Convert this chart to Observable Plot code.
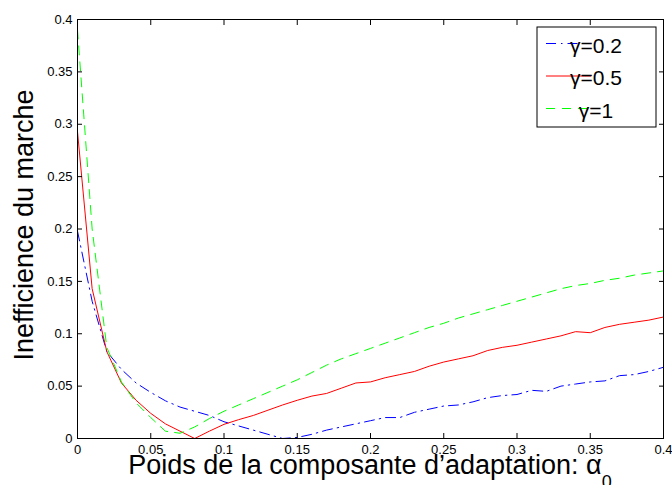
<!DOCTYPE html>
<html>
<head>
<meta charset="utf-8">
<script src="https://cdn.jsdelivr.net/npm/d3@7"></script>
<script src="https://cdn.jsdelivr.net/npm/@observablehq/plot@0.6"></script>
<style>
  html, body { margin: 0; padding: 0; background: #fff; }
  #chart svg { display: block; }
</style>
</head>
<body>
<div id="chart"></div>
<script>
// alpha_0 values (x)
const alpha = [0,0.01,0.02,0.03,0.04,0.05,0.06,0.07,0.08,0.09,0.10,0.11,0.12,0.13,0.14,0.15,0.16,0.17,0.18,0.19,0.20,0.21,0.22,0.23,0.24,0.25,0.26,0.27,0.28,0.29,0.30,0.31,0.32,0.33,0.34,0.35,0.36,0.37,0.38,0.39,0.40];
// series values
const gamma02 = [0.198,0.131,0.083,0.066,0.053,0.044,0.036,0.030,0.026,0.022,0.016,0.012,0.008,0.004,0.000,0.001,0.004,0.008,0.011,0.014,0.017,0.020,0.020,0.025,0.028,0.031,0.032,0.035,0.039,0.041,0.042,0.046,0.045,0.050,0.052,0.054,0.055,0.060,0.061,0.064,0.068];
const gamma05 = [0.293,0.143,0.083,0.053,0.0365,0.024,0.014,0.007,0.000,0.007,0.0135,0.018,0.022,0.027,0.032,0.0365,0.0405,0.043,0.048,0.053,0.054,0.058,0.061,0.064,0.069,0.073,0.076,0.079,0.084,0.087,0.089,0.092,0.095,0.098,0.102,0.101,0.106,0.109,0.111,0.113,0.116];
const gamma1  = [0.390,0.200,0.087,0.054,0.034,0.020,0.007,0.005,0.011,0.019,0.026,0.032,0.038,0.044,0.050,0.056,0.063,0.070,0.076,0.081,0.086,0.091,0.096,0.101,0.106,0.110,0.115,0.119,0.123,0.127,0.131,0.135,0.139,0.143,0.146,0.148,0.151,0.153,0.156,0.158,0.160];
const seriesNames = ["γ=0.2","γ=0.5","γ=1"];
const seriesColors = ["#0000ff","#ff0000","#00ff00"];
const seriesDash = ["10,5,1.5,5", null, "9,7"];
const xTicks = [0,0.05,0.1,0.15,0.2,0.25,0.3,0.35,0.4];
const yTicks = [0,0.05,0.1,0.15,0.2,0.25,0.3,0.35,0.4];
const xLabel = "Poids de la composante d’adaptation: ";
const yLabel = "Inefficience du marche";

const allSeries = [gamma02, gamma05, gamma1];
const data = [];
allSeries.forEach((vals, s) => vals.forEach((v, i) => data.push({x: alpha[i], y: v, s})));

const font = "'Liberation Sans', Arial, Helvetica, sans-serif";
const noLabel = () => "";

const lineMarks = allSeries.map((vals, s) =>
  Plot.line(data.filter(d => d.s === s), {
    x: "x", y: "y", stroke: seriesColors[s], strokeWidth: 1,
    strokeDasharray: seriesDash[s]
  })
);

const chart = Plot.plot({
  width: 672,
  height: 485,
  marginLeft: 77,
  marginRight: 9,
  marginTop: 19,
  marginBottom: 47,
  style: {fontFamily: font, fontSize: "13px", color: "black", background: "white", overflow: "visible"},
  x: {domain: [0, 0.4]},
  y: {domain: [0, 0.4]},
  marks: [
    ...lineMarks,
    Plot.axisX({anchor: "bottom", ticks: xTicks, tickSize: -5, tickPadding: 11, tickFormat: d => String(d), label: null, fontSize: 13}),
    Plot.axisX({anchor: "top", ticks: xTicks, tickSize: -5, tickFormat: noLabel, label: null}),
    Plot.axisY({anchor: "left", ticks: yTicks, tickSize: -5, tickPadding: 10, tickFormat: d => String(d), label: null, fontSize: 13}),
    Plot.axisY({anchor: "right", ticks: yTicks, tickSize: -5, tickFormat: noLabel, label: null}),
    Plot.frame({stroke: "black", strokeWidth: 1})
  ]
});

document.getElementById("chart").appendChild(chart);

// axis titles and legend drawn into the same SVG
const svg = d3.select(chart);
const xt = svg.append("text")
  .attr("x", 370).attr("y", 474)
  .attr("text-anchor", "middle")
  .style("font-family", font).style("font-size", "27px").attr("fill", "black");
xt.append("tspan").text(xLabel);
xt.append("tspan").text("α");
xt.append("tspan").attr("dy", 14).style("font-size", "18px").text("0");

svg.append("text")
  .attr("transform", "translate(33,225) rotate(-90)")
  .attr("text-anchor", "middle")
  .style("font-family", font).style("font-size", "27px").attr("fill", "black")
  .text(yLabel);

const lg = svg.append("g");
lg.append("rect").attr("x", 537).attr("y", 27).attr("width", 119).attr("height", 100)
  .attr("fill", "white").attr("stroke", "black").attr("stroke-width", 1);
seriesNames.forEach((name, s) => {
  const cy = 43.5 + s * 32.5;
  lg.append("line").attr("x1", 546).attr("x2", 591).attr("y1", cy).attr("y2", cy)
    .attr("stroke", seriesColors[s]).attr("stroke-width", 1)
    .attr("stroke-dasharray", seriesDash[s]);
  lg.append("text").attr("x", 596).attr("y", cy + 9)
    .style("font-family", font).style("font-size", "21px").attr("fill", "black")
    .text(name);
});
</script>
</body>
</html>
